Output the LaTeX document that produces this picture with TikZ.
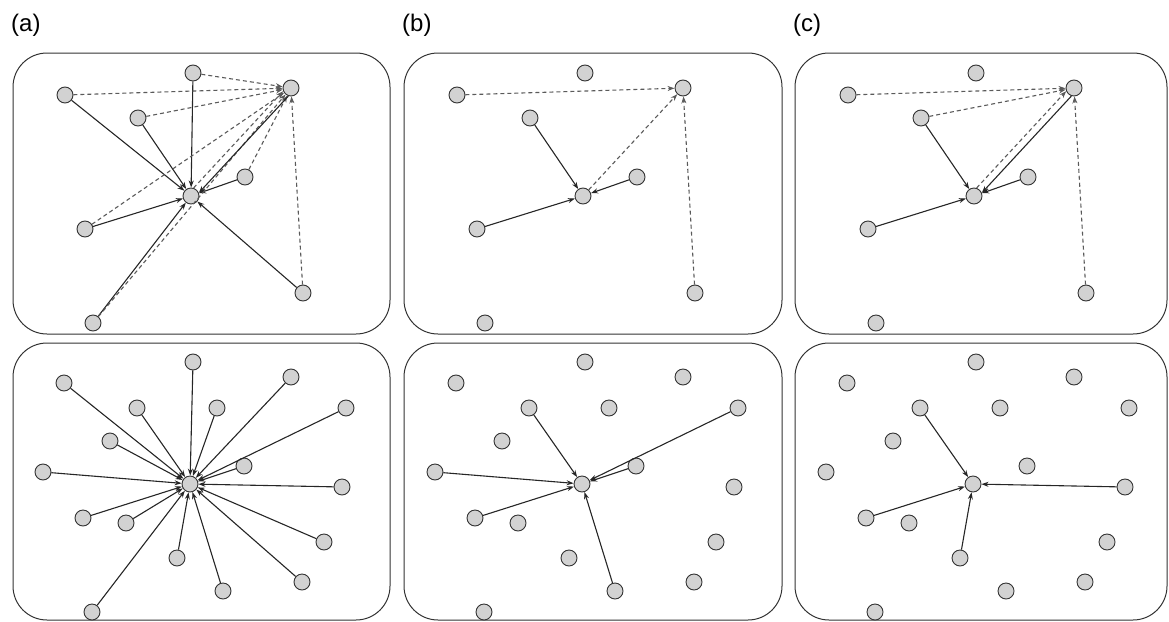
\documentclass[tikz,border=0pt]{standalone}
\usepackage{fontspec}
\setmainfont{Liberation Sans}
\definecolor{sensorfill}{HTML}{D2D2D2}
\definecolor{relaygray}{HTML}{5A5A5A}
\usetikzlibrary{arrows.meta}

\tikzset{
  sensor/.style={circle, draw=black!80, fill=sensorfill, line width=0.9pt,
                 minimum size=16pt, inner sep=0pt},
  panel/.style={draw=black!80, line width=1pt, rounded corners=34pt},
  report/.style={-{Stealth[length=7pt,width=5pt]}, line width=1.1pt, draw=black!85},
  relay/.style={report, dashed, dash pattern=on 4pt off 3pt, draw=relaygray},
  tag/.style={font=\fontsize{24}{26}\selectfont, inner sep=0pt, anchor=west}
}

\begin{document}
\begin{tikzpicture}[x=1pt, y=-1pt]
\useasboundingbox (0,0) rectangle (1169,621);

% frames and panel tags
\foreach \p/\dx/\r in {a/0/390, b/391/782, c/782/1167} {
  \draw[panel] (13+\dx,53) rectangle (\r,334);
  \draw[panel] (13+\dx,343) rectangle (\r,620);
  \node[tag] (tag\p) at (11+\dx,25) {(\p)};
}

% sensors, same layout in every panel
\foreach \p/\dx in {a/0, b/392, c/783} {
  \foreach \n/\x/\y in {1/65/95, 2/193/73, h/291/88, 4/138/118, 5/245/177,
                        c/191/196, 7/85/229, 8/303/293, 9/93/323}
    \node[sensor] (\p t\n) at (\x+\dx,\y) {};
  \foreach \n/\x/\y in {1/64/383, 2/193/362, 3/291/377, 4/346/408, 5/137/408,
                        6/217/408, 7/110/441, 8/244/466, 9/43/472, c/190/484,
                        10/342/487, 11/83/518, 12/126/523, 13/324/542,
                        14/177/558, 15/302/582, 16/223/591, 17/92/612}
    \node[sensor] (\p b\n) at (\x+\dx,\y) {};
}

% (a) top
\foreach \n in {1,2,4,5,7,8,9}
  \draw[report] (at\n) -- (atc);
\foreach \n in {1,2,4,5,7,8,9}
  \draw[relay] (at\n) -- (ath);
\draw[report] (ath.252) -- (atc.22);
\draw[relay] (atc.72) -- (ath.202);
% (a) bottom
\foreach \n in {1,...,17}
  \draw[report] (ab\n) -- (abc);

% (b) top
\foreach \n in {4,5,7}
  \draw[report] (bt\n) -- (btc);
\foreach \n in {1,8,c}
  \draw[relay] (bt\n) -- (bth);
% (b) bottom
\foreach \n in {4,5,8,9,11,16}
  \draw[report] (bb\n) -- (bbc);

% (c) top
\foreach \n in {4,5,7}
  \draw[report] (ct\n) -- (ctc);
\foreach \n in {1,4,8}
  \draw[relay] (ct\n) -- (cth);
\draw[report] (cth.252) -- (ctc.22);
\draw[relay] (ctc.72) -- (cth.202);
% (c) bottom
\foreach \n in {5,10,11,14}
  \draw[report] (cb\n) -- (cbc);

\end{tikzpicture}
\end{document}
